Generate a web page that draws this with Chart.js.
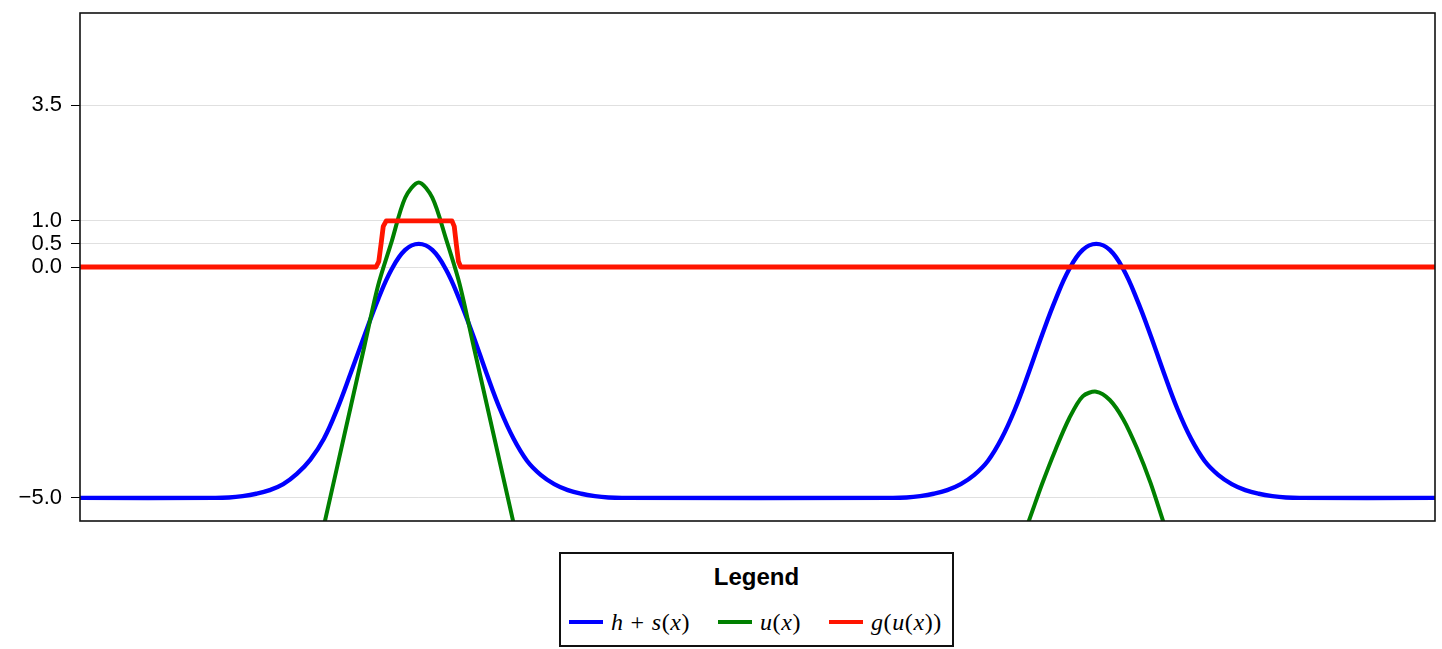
<!DOCTYPE html>
<html>
<head>
<meta charset="utf-8">
<script src="https://cdn.jsdelivr.net/npm/chart.js@4.4.1/dist/chart.umd.min.js"></script>
<style>
  html, body { margin: 0; padding: 0; background: #fff; }
  #wrap { position: relative; width: 1442px; height: 649px; overflow: hidden; }
  #c { position: absolute; left: 0; top: 0; }
  #legend {
    position: absolute; left: 559px; top: 552px; width: 395px; height: 95px;
    box-sizing: border-box; border: 2px solid #111; background: #fff;
  }
  #legend .ttl {
    position: absolute; left: 0; right: 0; top: 9px; height: 26px; line-height: 26px;
    text-align: center; font: bold 24px "Liberation Sans", Arial, sans-serif; color: #000;
  }
  #legend .item {
    position: absolute; top: 54px; height: 28px; display: flex; align-items: center;
    white-space: nowrap;
  }
  #legend .sw { display: inline-block; width: 34px; height: 4px; margin-right: 8px; }
  #legend .m { font: 24px "Liberation Serif", "DejaVu Serif", serif; color: #000; letter-spacing: 0.6px; }
  #legend .m i { font-style: italic; }
  #legend .m .op { margin: 0 7px; }
</style>
</head>
<body>
<div id="wrap">
  <canvas id="c" width="1442" height="649"></canvas>
  <div id="legend">
    <div class="ttl">Legend</div>
    <div class="item" style="left:8px"><span class="sw" id="sw0"></span><span class="m"><i>h</i><span class="op">+</span><i>s</i>(<i>x</i>)</span></div>
    <div class="item" style="left:157px"><span class="sw" id="sw1"></span><span class="m"><i>u</i>(<i>x</i>)</span></div>
    <div class="item" style="left:268px"><span class="sw" id="sw2"></span><span class="m"><i>g</i>(<i>u</i>(<i>x</i>))</span></div>
  </div>
</div>
<script>
// y-axis tick positions
const yTicks = [-5.0, 0.0, 0.5, 1.0, 3.5];

// h + s(x): two bumps rising from -5 to 0.5
const xBlue = [
  0,
  0.10, 0.11, 0.12, 0.13, 0.14, 0.15, 0.16, 0.17, 0.18, 0.19, 0.20, 0.21, 0.22, 0.23, 0.24, 0.25,
  0.26, 0.27, 0.28, 0.29, 0.30, 0.31, 0.32, 0.33, 0.34, 0.35, 0.36, 0.37, 0.38, 0.39, 0.40,
  0.60, 0.61, 0.62, 0.63, 0.64, 0.65, 0.66, 0.67, 0.68, 0.69, 0.70, 0.71, 0.72, 0.73, 0.74, 0.75,
  0.76, 0.77, 0.78, 0.79, 0.80, 0.81, 0.82, 0.83, 0.84, 0.85, 0.86, 0.87, 0.88, 0.89, 0.90,
  1
];
const yBlue = [
  -5,
  -5, -4.99, -4.96, -4.91, -4.83, -4.7, -4.48, -4.17, -3.72, -3.06, -2.28, -1.48, -0.7, -0.05, 0.37, 0.5,
  0.37, -0.05, -0.7, -1.47, -2.3, -3.08, -3.72, -4.2, -4.5, -4.7, -4.83, -4.91, -4.96, -4.99, -5,
  -5, -4.99, -4.96, -4.91, -4.83, -4.7, -4.5, -4.2, -3.72, -3.08, -2.3, -1.47, -0.7, -0.05, 0.37, 0.5,
  0.37, -0.05, -0.7, -1.47, -2.3, -3.08, -3.72, -4.2, -4.5, -4.7, -4.83, -4.91, -4.96, -4.99, -5,
  -5
];

// u(x): only the parts near the two bumps are inside the plotted range
const xGreen = [
  0.17, 0.18, 0.19, 0.20, 0.21, 0.22, 0.23, 0.24, 0.25, 0.26, 0.27, 0.28, 0.29, 0.30, 0.31, 0.32, 0.33,
  0.50,
  0.69, 0.70, 0.71, 0.72, 0.73, 0.74, 0.75, 0.76, 0.77, 0.78, 0.79, 0.80, 0.81
];
const yGreen = [
  -6.9, -5.6, -4.3, -3.0, -1.7, -0.4, 0.55, 1.5, 1.83, 1.5, 0.62, -0.35, -1.65, -2.95, -4.25, -5.55, -6.85,
  null,
  -6.3, -5.52, -4.7, -3.95, -3.28, -2.8, -2.7, -2.88, -3.3, -3.92, -4.67, -5.56, -6.4
];

// g(u(x)): a plateau at 1 around the first bump, 0 elsewhere
const xRed = [0, 0.2185, 0.2205, 0.2222, 0.2238, 0.226, 0.2745, 0.2762, 0.2777, 0.2793, 0.281, 1];
const yRed = [0, 0, 0.12, 0.5, 0.88, 1, 1, 0.88, 0.5, 0.12, 0, 0];

const seriesNames = ['h + s(x)', 'u(x)', 'g(u(x))'];
const seriesColors = ['#0000ff', '#008000', '#ff1500'];

function pairs(xs, ys) {
  return xs.map((x, i) => ({ x: x, y: ys[i] }));
}

seriesColors.forEach((c, i) => { document.getElementById('sw' + i).style.background = c; });

// plot frame drawn round the chart area
const framePlugin = {
  id: 'frame',
  afterDatasetsDraw(chart) {
    const { ctx, chartArea: a } = chart;
    ctx.save();
    ctx.strokeStyle = '#111';
    ctx.lineWidth = 1.6;
    ctx.strokeRect(a.left, a.top, a.right - a.left, a.bottom - a.top);
    ctx.restore();
  }
};

new Chart(document.getElementById('c').getContext('2d'), {
  type: 'line',
  data: {
    datasets: [
      { label: seriesNames[0], data: pairs(xBlue, yBlue), borderColor: seriesColors[0], borderWidth: 4.4,
        tension: 0.4, order: 3 },
      { label: seriesNames[1], data: pairs(xGreen, yGreen), borderColor: seriesColors[1], borderWidth: 4,
        tension: 0.3, spanGaps: false, order: 2 },
      { label: seriesNames[2], data: pairs(xRed, yRed), borderColor: seriesColors[2], borderWidth: 4.8,
        tension: 0, order: 1 }
    ]
  },
  options: {
    responsive: false,
    animation: false,
    devicePixelRatio: 1,
    layout: { padding: { left: 0, top: 13, right: 7, bottom: 128 } },
    elements: {
      point: { radius: 0, hoverRadius: 0 },
      line: { borderJoinStyle: 'round', borderCapStyle: 'butt', fill: false }
    },
    datasets: { line: { clip: 0 } },
    plugins: { legend: { display: false }, tooltip: { enabled: false } },
    scales: {
      x: { type: 'linear', min: 0, max: 1, display: false },
      y: {
        type: 'linear', min: -5.5, max: 5.5,
        afterBuildTicks: (s) => { s.ticks = yTicks.map(v => ({ value: v })); },
        afterFit: (s) => { s.width = 80; s.paddingTop = 0; s.paddingBottom = 0; },
        ticks: {
          color: '#000', padding: 9,
          font: { family: '"Liberation Sans", Arial, sans-serif', size: 22 },
          callback: (v) => (v < 0 ? '\u2212' : '') + Math.abs(v).toFixed(1)
        },
        grid: { color: 'rgba(0,0,0,0.12)', lineWidth: 1, tickColor: '#000', tickLength: 9, tickWidth: 1 },
        border: { display: false }
      }
    }
  },
  plugins: [framePlugin]
});
</script>
</body>
</html>
